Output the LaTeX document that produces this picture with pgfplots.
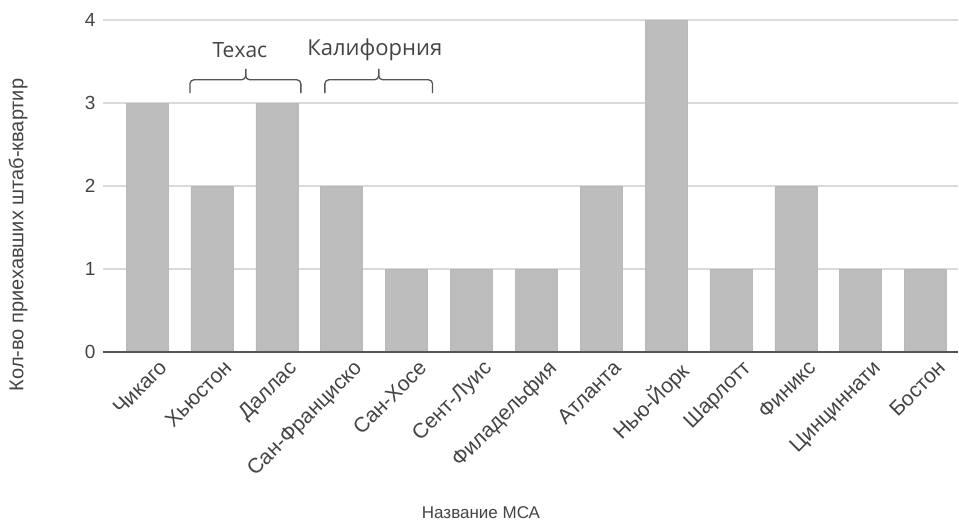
\documentclass[border=0pt]{standalone}
\usepackage{pgfplots}
\pgfplotsset{compat=1.18}
\usepackage{fontspec}
\setmainfont{Liberation Sans}
\newfontfamily\notefont{Open Sans}

\definecolor{barfill}{HTML}{BDBDBD}
\definecolor{baredge}{HTML}{B8B8B8}
\definecolor{gridgray}{HTML}{DADADA}
\definecolor{axisgray}{HTML}{555555}
\definecolor{textgray}{HTML}{444444}

\begin{document}
\begin{tikzpicture}[x=1pt,y=1pt]
\useasboundingbox (-103,-171) rectangle (856,352);
\begin{axis}[
    at={(0,0)}, anchor=south west,
    scale only axis, width=855pt, height=332pt,
    xmin=-0.68, xmax=12.5,
    ymin=0, ymax=4,
    ytick={0,1,2,3,4},
    xtick={0,...,12},
    xticklabels={Чикаго, Хьюстон, Даллас, Сан-Франциско, Сан-Хосе, Сент-Луис, Филадельфия, Атланта, Нью-Йорк, Шарлотт, Финикс, Цинциннати, Бостон},
    xticklabel style={rotate=45, anchor=north east, font=\fontsize{21}{24}\selectfont, text=textgray, xshift=6pt, yshift=-9pt},
    yticklabel style={font=\fontsize{19}{22}\selectfont, text=textgray, xshift=-4pt},
    /pgf/number format/assume math mode=true,
    major tick length=0pt,
    axis line style={draw=none},
    ymajorgrids,
    major grid style={gridgray, line width=1.1pt},
    clip=false,
    ybar, bar width=42pt,
]
\addplot[fill=barfill, draw=baredge, line width=0.5pt] coordinates {
    (0,3) (1,2) (2,3) (3,2) (4,1) (5,1) (6,1) (7,2) (8,4) (9,1) (10,2) (11,1) (12,1)
};
\draw[axisgray, line width=1.6pt] (axis cs:-0.68,0) -- (axis cs:12.5,0);

% скобки над группами
\draw[axisgray, line width=1.3pt, rounded corners=4pt]
    (axis cs:0.66,3.12) -- (axis cs:0.66,3.28) -- (axis cs:1.52,3.28) -- (axis cs:1.52,3.41);
\draw[axisgray, line width=1.3pt, rounded corners=4pt]
    (axis cs:1.52,3.41) -- (axis cs:1.52,3.28) -- (axis cs:2.37,3.28) -- (axis cs:2.37,3.12);
\draw[axisgray, line width=1.3pt, rounded corners=4pt]
    (axis cs:2.74,3.12) -- (axis cs:2.74,3.28) -- (axis cs:3.57,3.28) -- (axis cs:3.57,3.41);
\draw[axisgray, line width=1.3pt, rounded corners=4pt]
    (axis cs:3.57,3.41) -- (axis cs:3.57,3.28) -- (axis cs:4.40,3.28) -- (axis cs:4.40,3.12);
\node[font=\notefont\fontsize{21}{25}\selectfont, text=textgray] at (axis cs:1.43,3.64) {Техас};
\node[font=\notefont\fontsize{22}{26}\selectfont, text=textgray] at (axis cs:3.51,3.64) {Калифорния};
\end{axis}
\node[rotate=90, font=\fontsize{20}{24}\selectfont, text=textgray] at (-85,117) {Кол-во приехавших штаб-квартир};
\node[font=\fontsize{17}{20}\selectfont, text=textgray] at (378,-161) {Название МСА};
\end{tikzpicture}
\end{document}
